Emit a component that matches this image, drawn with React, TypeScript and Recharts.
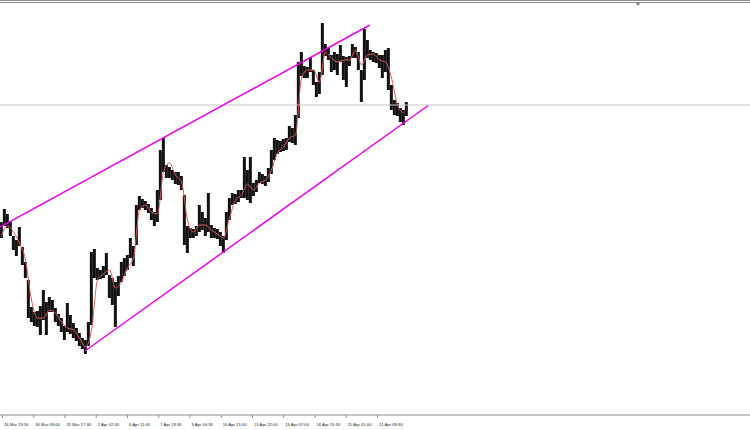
import {
  ComposedChart,
  Bar,
  Line,
  XAxis,
  YAxis,
  ReferenceLine,
} from "recharts";

// one bar per 3px column of the original chart, highs / lows in price
const highs = [
  1650, 1656.5, 1654, 1650, 1643, 1641, 1647.5, 1637.5, 1630, 1621,
  1607.5, 1605, 1605.5, 1608, 1616, 1610, 1612.5, 1611, 1607, 1604,
  1602, 1598, 1609.5, 1603.5, 1599.5, 1597, 1594.5, 1592, 1591, 1600,
  1635, 1636.5, 1627, 1626, 1628, 1634.5, 1623.5, 1622, 1620, 1623,
  1630, 1632, 1633.5, 1642, 1638, 1658.5, 1663, 1661.5, 1660.5, 1659,
  1657, 1655, 1666, 1686, 1692, 1678.5, 1677.5, 1676, 1675, 1675,
  1673, 1663.5, 1648, 1647, 1646.5, 1648, 1658.5, 1655, 1652, 1664.5,
  1648.5, 1647, 1646.5, 1645, 1643, 1655, 1662, 1664.5, 1664, 1666,
  1666, 1682.5, 1676, 1682.5, 1669.5, 1671, 1675, 1674, 1673, 1677,
  1686, 1692, 1691, 1690.5, 1691.5, 1692, 1698, 1697, 1703.5, 1730,
  1735, 1728, 1727.5, 1732.5, 1726, 1720, 1725, 1749.5, 1739, 1737,
  1733.5, 1735, 1734, 1738.5, 1733, 1732.5, 1733, 1739, 1737.5, 1735,
  1726, 1746.5, 1741, 1736, 1735, 1734.5, 1733.5, 1733.5, 1736, 1737,
  1718.5, 1711, 1709.5, 1707, 1706, 1710,
];

const lows = [
  1642, 1648, 1647, 1643, 1636, 1633, 1638, 1628.5, 1622, 1602,
  1600, 1598, 1597.5, 1593.5, 1601, 1593.5, 1605, 1605, 1600, 1598,
  1595, 1591, 1595, 1594, 1592, 1590.5, 1588, 1586.5, 1584, 1588,
  1598.5, 1622, 1621, 1621.5, 1622, 1623.5, 1612, 1608.5, 1597.5, 1613,
  1620, 1623, 1626, 1632, 1628, 1638.5, 1656, 1657, 1656, 1654.5,
  1651, 1648, 1650, 1661, 1675, 1672, 1672, 1671, 1669, 1668.5,
  1666, 1638.5, 1634.5, 1642, 1642, 1643, 1645, 1646, 1643, 1645,
  1642, 1642, 1641.5, 1638, 1634.5, 1641, 1651, 1658.5, 1659, 1660,
  1662, 1662, 1661, 1659.5, 1663, 1665, 1669.5, 1669, 1668, 1670,
  1674, 1681, 1684, 1685, 1685.5, 1686, 1690, 1689.5, 1688.5, 1702,
  1723, 1722, 1722, 1725, 1718.5, 1712.5, 1714, 1723.5, 1733, 1731,
  1725, 1726, 1723.5, 1730, 1721, 1717.5, 1728, 1732, 1732, 1726,
  1710, 1721, 1732, 1731, 1730, 1729.5, 1727, 1722, 1725, 1716,
  1706, 1703.5, 1703, 1700, 1698.5, 1703,
];

// moving average, read at every second bar
const maValues = [
  1643.5, 1648, 1645, 1639.5, 1631, 1611, 1602, 1602, 1606, 1604.5,
  1600, 1597, 1596, 1592, 1587.5, 1596, 1621, 1624, 1626, 1617,
  1620, 1627, 1632, 1656, 1658.5, 1655, 1654, 1675, 1679.5, 1673.5,
  1670, 1651, 1645, 1648.5, 1648.5, 1646, 1644, 1642, 1652, 1661,
  1663.5, 1669, 1666, 1669.5, 1671, 1676, 1684.5, 1687.5, 1692, 1693.5,
  1722, 1726, 1726, 1720, 1735, 1732, 1730, 1731, 1731, 1736,
  1728.5, 1733.5, 1734, 1731, 1730, 1722, 1708.5, 1704.5,
];

const tickBars = [
  0.33, 10.75, 21.17, 31.58, 42, 52.42, 62.83, 73.25, 83.67, 94.08, 104.5,
  114.92, 125.33,
];
const tickLabels = [
  "26 Mar 23:30",
  "30 Mar 09:00",
  "31 Mar 17:30",
  "2 Apr 02:30",
  "6 Apr 11:00",
  "7 Apr 19:30",
  "9 Apr 04:30",
  "10 Apr 13:00",
  "13 Apr 22:00",
  "15 Apr 07:00",
  "16 Apr 15:30",
  "20 Apr 01:00",
  "21 Apr 09:30",
];

const upperChannel = [
  { x: -0.5, y: 1647.5 },
  { x: 122.8, y: 1748.5 },
];
const lowerChannel = [
  { x: 27.8, y: 1585.5 },
  { x: 142.2, y: 1708.25 },
];
const priceLevel = 1708.5;

const data = highs.map((h, i) => ({
  bar: i,
  range: [lows[i], h],
  ma: i % 2 === 0 ? maValues[i / 2] : null,
}));

function TimeTick(props: any) {
  const { x, y, payload } = props;
  const label = tickLabels[tickBars.indexOf(payload.value)];
  return (
    <g>
      <line x1={x} y1={y} x2={x} y2={y + 3} stroke="#8c8c8c" />
      <text
        x={x + 1.5}
        y={y + 11}
        fontSize={4.2}
        fill="#222"
        fontFamily="Liberation Sans, Arial, sans-serif"
        textAnchor="start"
      >
        {label}
      </text>
    </g>
  );
}

// bar body centred on its slot, full 3px wide so neighbours touch
function PriceBar(props: any) {
  const { x, y, width, height } = props;
  if (height == null || isNaN(height)) return null;
  const cx = x + width / 2;
  return (
    <rect
      x={cx - 1.5}
      y={y}
      width={3}
      height={Math.max(Math.abs(height), 1)}
      fill="#111"
    />
  );
}

export default function App() {
  return (
    <div
      style={{
        position: "absolute",
        left: 0,
        top: 0,
        width: 750,
        height: 430,
        background: "#fff",
      }}
    >
      <div style={{ position: "absolute", left: 0, top: 0, width: 750, height: 1, background: "#8c8c8c" }} />
      <div style={{ position: "absolute", left: 0, top: 2, width: 750, height: 1, background: "#8c8c8c" }} />
      <div
        style={{
          position: "absolute",
          left: 636,
          top: 3,
          width: 0,
          height: 0,
          borderLeft: "2px solid transparent",
          borderRight: "2px solid transparent",
          borderTop: "3px solid #777",
        }}
      />
      <ComposedChart
        width={750}
        height={430}
        data={data}
        barCategoryGap={0}
        barGap={0}
        margin={{ top: 2, right: 0, bottom: 0, left: 0 }}
      >
        <XAxis
          dataKey="bar"
          type="number"
          domain={[-0.5, 249.5]}
          allowDataOverflow
          ticks={tickBars}
          interval={0}
          height={15}
          tickSize={0}
          tickMargin={0}
          tickLine={false}
          axisLine={{ stroke: "#8c8c8c" }}
          tick={<TimeTick />}
        />
        <YAxis hide domain={[1553.5, 1760]} allowDataOverflow />
        <ReferenceLine y={priceLevel} stroke="#c8c8c8" strokeWidth={1} />
        <Bar
          dataKey="range"
          fill="#111"
          barSize={3}
          shape={<PriceBar />}
          isAnimationActive={false}
        />
        <Line
          dataKey="ma"
          type="monotone"
          stroke="#e05a5a"
          strokeWidth={1}
          dot={false}
          connectNulls
          isAnimationActive={false}
        />
        <ReferenceLine
          segment={upperChannel}
          stroke="#ee00ee"
          strokeWidth={1.5}
          ifOverflow="visible"
        />
        <ReferenceLine
          segment={lowerChannel}
          stroke="#ee00ee"
          strokeWidth={1.5}
          ifOverflow="visible"
        />
      </ComposedChart>
    </div>
  );
}
